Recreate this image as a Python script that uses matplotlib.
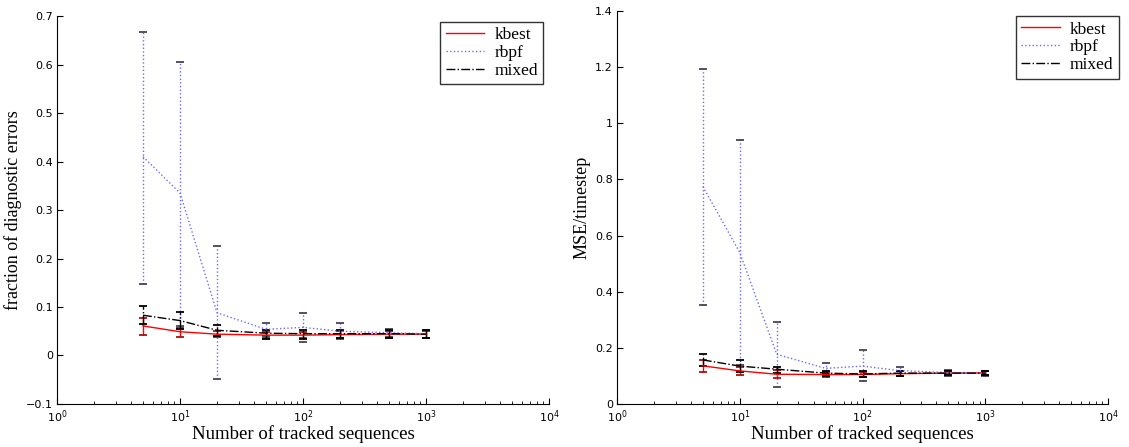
import matplotlib.pyplot as plt
import numpy as np

n_seq = [5, 10, 20, 50, 100, 200, 500, 1000]

# left panel: fraction of diagnostic errors
err_kbest = [0.061, 0.049, 0.044, 0.042, 0.042, 0.043, 0.044, 0.044]
err_kbest_lo = [0.042, 0.038, 0.038, 0.036, 0.036, 0.037, 0.037, 0.037]
err_kbest_hi = [0.078, 0.057, 0.050, 0.048, 0.048, 0.050, 0.051, 0.050]

err_rbpf = [0.41, 0.335, 0.088, 0.054, 0.058, 0.050, 0.047, 0.045]
err_rbpf_lo = [0.148, 0.06, -0.048, 0.040, 0.028, 0.035, 0.038, 0.037]
err_rbpf_hi = [0.668, 0.605, 0.225, 0.068, 0.087, 0.067, 0.055, 0.052]

err_mixed = [0.083, 0.072, 0.052, 0.046, 0.045, 0.045, 0.045, 0.044]
err_mixed_lo = [0.065, 0.055, 0.040, 0.034, 0.033, 0.036, 0.036, 0.036]
err_mixed_hi = [0.102, 0.089, 0.062, 0.052, 0.053, 0.052, 0.053, 0.052]

# right panel: MSE per timestep
mse_kbest = [0.136, 0.118, 0.106, 0.105, 0.105, 0.108, 0.110, 0.111]
mse_kbest_lo = [0.113, 0.103, 0.092, 0.096, 0.096, 0.100, 0.102, 0.103]
mse_kbest_hi = [0.158, 0.132, 0.120, 0.114, 0.114, 0.116, 0.118, 0.119]

mse_rbpf = [0.775, 0.54, 0.177, 0.127, 0.135, 0.119, 0.112, 0.110]
mse_rbpf_lo = [0.353, 0.14, 0.060, 0.107, 0.082, 0.100, 0.100, 0.100]
mse_rbpf_hi = [1.193, 0.94, 0.293, 0.147, 0.192, 0.132, 0.120, 0.118]

mse_mixed = [0.157, 0.135, 0.124, 0.110, 0.107, 0.110, 0.110, 0.110]
mse_mixed_lo = [0.136, 0.115, 0.110, 0.100, 0.097, 0.101, 0.102, 0.102]
mse_mixed_hi = [0.178, 0.157, 0.131, 0.118, 0.116, 0.118, 0.118, 0.118]


def draw_series(ax, y, lo, hi, color, ls, label, capcolor, lw=1.0):
    y = np.array(y)
    yerr = [y - np.array(lo), np.array(hi) - y]
    line, caps, bars = ax.errorbar(n_seq, y, yerr=yerr, color=color, ls=ls,
                                   lw=lw, elinewidth=lw, capsize=3,
                                   capthick=1.3)
    bars[0].set_linestyle(ls)
    for c in caps:
        c.set_markeredgecolor(capcolor)
    line.set_label(label)
    return line


def style_axes(ax, ylim, yticks, ylabel, handles, legend_anchor):
    ax.set_xscale('log')
    ax.set_xlim(1, 1e4)
    ax.set_ylim(*ylim)
    ax.set_yticks(yticks)
    ax.spines['top'].set_visible(False)
    ax.spines['right'].set_visible(False)
    ax.tick_params(axis='both', which='both', direction='in',
                   labelsize=8, pad=3)
    ax.tick_params(axis='both', which='major', length=4)
    ax.tick_params(axis='x', which='minor', length=2.5)
    for t in ax.get_yticklabels() + ax.get_xticklabels():
        t.set_fontfamily('DejaVu Sans')
    ax.set_xlabel('Number of tracked sequences', family='Liberation Serif',
                  fontsize=13.5, labelpad=0)
    ax.set_ylabel(ylabel, family='Liberation Serif', fontsize=13,
                  labelpad=3)
    leg = ax.legend(handles=handles, loc='upper right',
                    bbox_to_anchor=legend_anchor,
                    borderaxespad=0, fancybox=False, edgecolor='black',
                    prop={'family': 'Liberation Serif', 'size': 12.5},
                    handlelength=2.2, handletextpad=0.6,
                    labelspacing=0.1, borderpad=0.3)
    leg.get_frame().set_linewidth(1.0)


fig = plt.figure(figsize=(11.29, 4.47), dpi=100)
ax1 = fig.add_axes([0.0505, 0.0962, 0.4358, 0.868])
ax2 = fig.add_axes([0.5465, 0.0962, 0.435, 0.879])

all_handles = []
for ax, data in [
    (ax1, [(err_kbest, err_kbest_lo, err_kbest_hi),
           (err_rbpf, err_rbpf_lo, err_rbpf_hi),
           (err_mixed, err_mixed_lo, err_mixed_hi)]),
    (ax2, [(mse_kbest, mse_kbest_lo, mse_kbest_hi),
           (mse_rbpf, mse_rbpf_lo, mse_rbpf_hi),
           (mse_mixed, mse_mixed_lo, mse_mixed_hi)]),
]:
    h1 = draw_series(ax, *data[0], color='red', ls='-', label='kbest',
                     capcolor='#aa1111')
    h2 = draw_series(ax, *data[1], color='#6a6aff', ls=':', label='rbpf',
                     capcolor='#444455')
    h3 = draw_series(ax, *data[2], color='black', ls='-.', label='mixed',
                     capcolor='black')
    all_handles.append([h1, h2, h3])

style_axes(ax1, (-0.1, 0.7), np.arange(-0.1, 0.71, 0.1),
           'fraction of diagnostic errors', all_handles[0], (0.988, 0.985))
ax1.set_yticklabels(['\u22120.1', '0', '0.1', '0.2', '0.3', '0.4', '0.5',
                     '0.6', '0.7'], family='DejaVu Sans')
style_axes(ax2, (0, 1.4), np.arange(0, 1.41, 0.2),
           'MSE/timestep', all_handles[1], (1.022, 0.987))
ax2.set_yticklabels(['0', '0.2', '0.4', '0.6', '0.8', '1', '1.2', '1.4'],
                    family='DejaVu Sans')

fig.savefig('out.png', dpi=100)
